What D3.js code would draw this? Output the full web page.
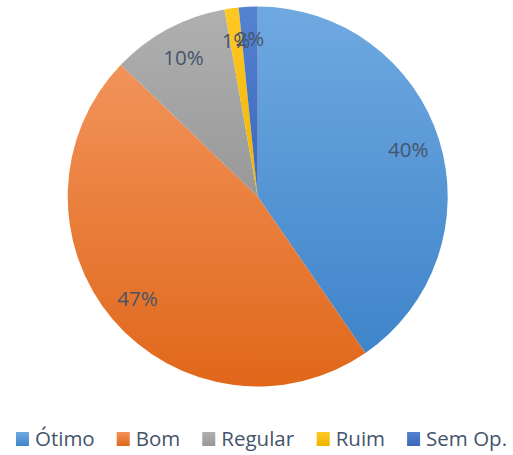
<!DOCTYPE html>
<html>
<head>
<meta charset="utf-8">
<script src="https://cdn.jsdelivr.net/npm/d3@7"></script>
<style>
  body { margin: 0; background: #fff; }
  svg { display: block; font-family: "Open Sans", sans-serif; }
</style>
</head>
<body>
<div id="chart"></div>
<script>
// categories and counts
const categories = ["Ótimo", "Bom", "Regular", "Ruim", "Sem Op."];
const counts = [101, 117, 25, 3, 4];

// gradient stops per category: [top, bottom]
const colorsTop = ["#6fa9e0", "#f2935a", "#b0b0b0", "#ffc824", "#5583d2"];
const colorsBottom = ["#3f84ca", "#e0671a", "#989898", "#f0b400", "#3a67b8"];

const width = 513, height = 455;
const cx = 257.7, cy = 196.5, radius = 190;
const textColor = "#44546a";

const svg = d3.select("#chart").append("svg")
    .attr("width", width)
    .attr("height", height);

const defs = svg.append("defs");
categories.forEach((c, i) => {
    const g = defs.append("linearGradient")
        .attr("id", "grad" + i)
        .attr("x1", 0).attr("y1", 0).attr("x2", 0).attr("y2", 1);
    g.append("stop").attr("offset", "0%").attr("stop-color", colorsTop[i]);
    g.append("stop").attr("offset", "100%").attr("stop-color", colorsBottom[i]);
});

const total = d3.sum(counts);
const pie = d3.pie().sort(null).value(d => d)(counts);

const arc = d3.arc().innerRadius(0).outerRadius(radius);
const labelArc = d3.arc().innerRadius(radius * 0.83).outerRadius(radius * 0.83);

const g = svg.append("g").attr("transform", `translate(${cx},${cy})`);

g.selectAll("path")
    .data(pie)
    .join("path")
    .attr("d", arc)
    .attr("fill", (d, i) => `url(#grad${i})`);

// the two tiny slices' labels sit on top of each other, as in the original
g.selectAll("text")
    .data(pie)
    .join("text")
    .attr("transform", d => `translate(${labelArc.centroid(d)})`)
    .attr("text-anchor", "middle")
    .attr("dy", "0.36em")
    .attr("fill", textColor)
    .style("font-size", "20.5px")
    .text(d => Math.round(d.value / total * 100) + "%");

// legend: laid out left to right, measured, then centred
const legend = svg.append("g");
const items = legend.selectAll("g")
    .data(categories)
    .join("g");

items.append("rect")
    .attr("y", -7)
    .attr("width", 13)
    .attr("height", 14)
    .attr("fill", (d, i) => `url(#grad${i})`);

items.append("text")
    .attr("x", 19)
    .attr("dy", "0.36em")
    .attr("fill", textColor)
    .style("font-size", "20.5px")
    .text(d => d);

let x = 0;
const gap = 22;
items.each(function() {
    const w = this.getBBox().width;
    d3.select(this).attr("transform", `translate(${x},0)`);
    x += w + gap;
});
const legendWidth = x - gap;
legend.attr("transform", `translate(${(width - legendWidth) / 2 + 5},439)`);
</script>
</body>
</html>
